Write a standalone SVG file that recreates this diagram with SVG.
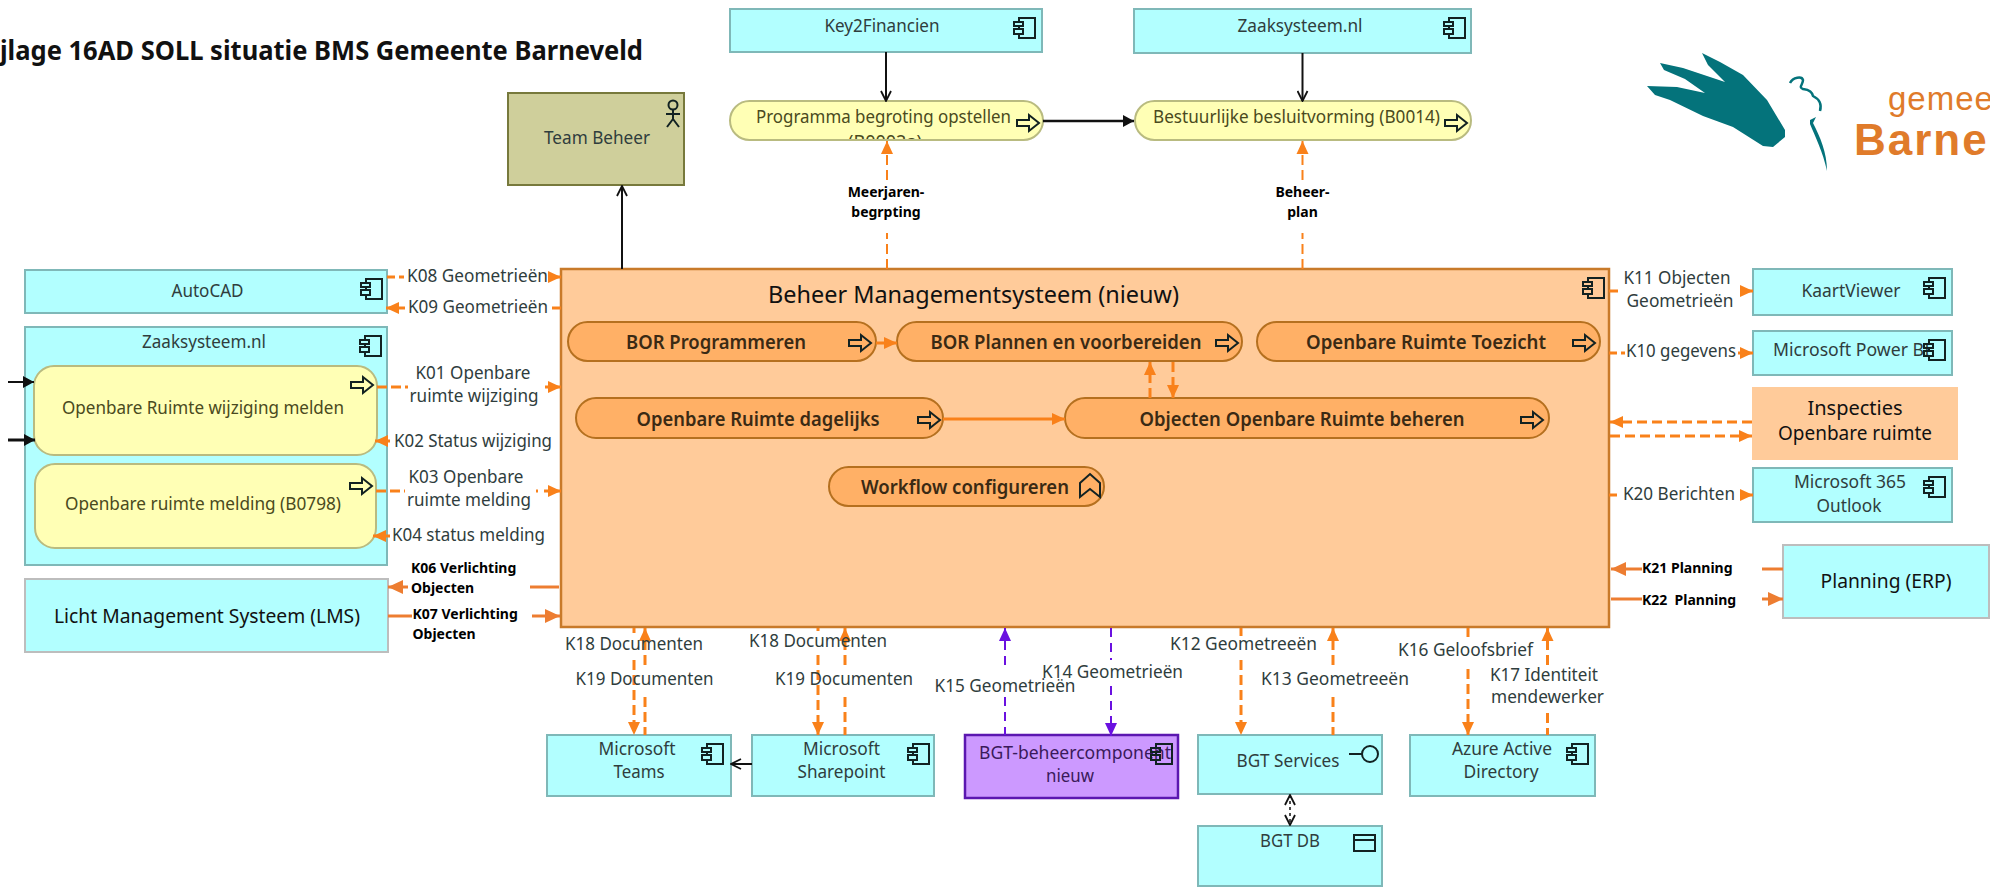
<svg xmlns="http://www.w3.org/2000/svg" width="1990" height="887" viewBox="0 0 1990 887">
<style>
text{font-family:"Noto Sans","Liberation Sans",sans-serif}
.t{font-size:18px;fill:#2f3d3d;text-anchor:middle}
.ts{font-size:18px;fill:#2f3d3d;text-anchor:start}
.y{font-size:18px;fill:#4a4a20;text-anchor:middle}
.o{font-size:20px;font-weight:600;fill:#3a2a14;text-anchor:middle}
.b{font-size:14px;font-weight:700;fill:#000;text-anchor:start}
.bm{font-size:14px;font-weight:700;fill:#000;text-anchor:middle}
.n{font-size:20px;fill:#111;text-anchor:middle}
.app{fill:#b2ffff;stroke:#7fb8b8;stroke-width:2}
.plain{fill:#b2ffff;stroke:#bdbdbd;stroke-width:2}
.yel{fill:#ffffb5;stroke:#b9bb80;stroke-width:2}
.pill{fill:#ffb066;stroke:#b5701f;stroke-width:2}
.ic{fill:none;stroke:#122222;stroke-width:2}
.or{stroke:#f9811a;stroke-width:3;fill:none}
.dash{stroke-dasharray:10 5}
.k{stroke:#ed7d31;stroke-width:3;fill:none}
.pu{stroke:#6a11e0;stroke-width:2;fill:none;stroke-dasharray:9 6}
.bl{stroke:#111;stroke-width:2;fill:none}
</style>
<defs>
<marker id="hO" markerUnits="userSpaceOnUse" markerWidth="14" markerHeight="14" viewBox="0 0 14 14" refX="13" refY="7" orient="auto"><path d="M0 1L13 7L0 13Z" fill="#f9811a"/></marker>
<marker id="hK" markerUnits="userSpaceOnUse" markerWidth="16" markerHeight="14" viewBox="0 0 16 14" refX="15" refY="7" orient="auto"><path d="M0 0L15 7L0 14Z" fill="#ed7d31"/></marker>
<marker id="hP" markerUnits="userSpaceOnUse" markerWidth="14" markerHeight="14" viewBox="0 0 14 14" refX="13" refY="7" orient="auto"><path d="M0 1L13 7L0 13Z" fill="#6a11e0"/></marker>
<marker id="hB" markerUnits="userSpaceOnUse" markerWidth="12" markerHeight="12" viewBox="0 0 12 12" refX="11" refY="6" orient="auto"><path d="M0 0L11 6L0 12Z" fill="#111"/></marker>
<marker id="hA" markerUnits="userSpaceOnUse" markerWidth="12" markerHeight="12" viewBox="0 0 12 12" refX="11" refY="6" orient="auto-start-reverse"><path d="M1 1L11 6L1 11" fill="none" stroke="#111" stroke-width="1.8"/></marker>
<g id="comp"><path class="ic" d="M5 4V0H21V20H5V16M5 11V8"/><rect class="ic" x="0" y="4" width="9" height="4"/><rect class="ic" x="0" y="11" width="9" height="5"/></g>
<path id="proc" class="ic" d="M0 5H12V0L22 8L12 16V11H0Z"/>
<clipPath id="clipProg"><rect x="730" y="101" width="313" height="38"/></clipPath>
</defs>

<text id="title" x="0" y="60" font-size="26" font-weight="700" fill="#111" textLength="643" lengthAdjust="spacingAndGlyphs">jlage 16AD SOLL situatie BMS Gemeente Barneveld</text>

<g id="logo">
<path fill="#04737b" d="M1647 86L1677 87L1705 93L1685 79L1664 70L1660 63L1683 68L1725 82L1708 65L1702 53L1720 62L1743 75L1767 100L1785 130L1785 137L1773 147L1763 146L1733 127L1703 116L1670 100L1655 95Z"/>
<path fill="none" stroke="#04737b" stroke-width="2.5" d="M1790 83C1793 77 1802 76 1803 80C1803 85 1798 87 1803 89C1810 90 1812 92 1813 96C1819 99 1822 104 1820 111"/>
<path fill="#04737b" d="M1810 120L1816 117L1813 123C1820 137 1827 152 1827 171C1823 152 1815 136 1810 124Z"/>
<text x="1888" y="110" font-size="33" fill="#e07b2a" letter-spacing="1" style="font-family:'Liberation Sans',sans-serif">gemee</text>
<text x="1854" y="155" font-size="44" font-weight="700" fill="#e07b2a" letter-spacing="2" style="font-family:'Liberation Sans',sans-serif">Barne</text>
</g>

<g id="team-beheer">
<rect x="508" y="93" width="176" height="92" fill="#cfcf9b" stroke="#77793c" stroke-width="2"/>
<g class="ic"><circle cx="673" cy="105" r="4.5"/><path d="M673 110V119M666 114H680M673 119L667 127M673 119L679 127"/></g>
<text class="t" x="597" y="144" textLength="106" lengthAdjust="spacingAndGlyphs">Team Beheer</text>
</g>

<g id="key2financien">
<rect class="app" x="730" y="9" width="312" height="43"/><use href="#comp" x="1014" y="18"/>
<text class="t" x="882" y="32" textLength="115" lengthAdjust="spacingAndGlyphs">Key2Financien</text>
</g>
<g id="zaaksysteem-top">
<rect class="app" x="1134" y="9" width="337" height="44"/><use href="#comp" x="1444" y="18"/>
<text class="t" x="1300" y="32" textLength="125" lengthAdjust="spacingAndGlyphs">Zaaksysteem.nl</text>
</g>
<g id="programma-begroting">
<rect class="yel" x="730" y="101" width="313" height="39" rx="19.5"/><use href="#proc" x="1017" y="115"/>
<text class="y" x="883.5" y="123" textLength="255" lengthAdjust="spacingAndGlyphs">Programma begroting opstellen</text>
<text class="y" x="885" y="148" clip-path="url(#clipProg)">(B0002a)</text>
</g>
<g id="bestuurlijke-besluitvorming">
<rect class="yel" x="1135" y="101" width="336" height="39" rx="19.5"/><use href="#proc" x="1445" y="115"/>
<text class="y" x="1296.5" y="123" textLength="287" lengthAdjust="spacingAndGlyphs">Bestuurlijke besluitvorming (B0014)</text>
</g>

<g id="autocad">
<rect class="app" x="25" y="270" width="362" height="43"/><use href="#comp" x="361" y="279"/>
<text class="t" x="207.500" y="297" textLength="72" lengthAdjust="spacingAndGlyphs">AutoCAD</text>
</g>
<g id="zaaksysteem-left">
<rect class="app" x="25" y="327" width="362" height="238"/><use href="#comp" x="360" y="336"/>
<text class="t" x="204" y="348" textLength="124" lengthAdjust="spacingAndGlyphs">Zaaksysteem.nl</text>
<g id="or-wijziging-melden">
<rect class="yel" x="34" y="366" width="343" height="89" rx="20"/><use href="#proc" x="351" y="377"/>
<text class="y" x="203" y="414" textLength="282" lengthAdjust="spacingAndGlyphs">Openbare Ruimte wijziging melden</text>
</g>
<g id="or-melding">
<rect class="yel" x="35" y="464" width="341" height="84" rx="20"/><use href="#proc" x="350" y="478"/>
<text class="y" x="203" y="510" textLength="276" lengthAdjust="spacingAndGlyphs">Openbare ruimte melding (B0798)</text>
</g>
</g>
<g id="lms">
<rect class="plain" x="25" y="579" width="363" height="73"/>
<text class="n" x="207" y="623" textLength="306" lengthAdjust="spacingAndGlyphs">Licht Management Systeem (LMS)</text>
</g>

<g id="bms">
<rect x="561" y="269" width="1048" height="358" fill="#ffcb9a" stroke="#c87a2a" stroke-width="2.5"/>
<use href="#comp" x="1583" y="278"/>
<text x="768" y="303" font-size="23" fill="#111" textLength="411" lengthAdjust="spacingAndGlyphs">Beheer Managementsysteem (nieuw)</text>
<g id="bor-programmeren"><rect class="pill" x="568" y="322" width="308" height="39" rx="19.500"/><use href="#proc" x="849" y="335"/><text class="o" x="716" y="349" textLength="180" lengthAdjust="spacingAndGlyphs">BOR Programmeren</text></g>
<g id="bor-plannen"><rect class="pill" x="897" y="322" width="345" height="39" rx="19.500"/><use href="#proc" x="1216" y="335"/><text class="o" x="1066" y="349" textLength="271" lengthAdjust="spacingAndGlyphs">BOR Plannen en voorbereiden</text></g>
<g id="or-toezicht"><rect class="pill" x="1257" y="322" width="343" height="39" rx="19.500"/><use href="#proc" x="1573" y="335"/><text class="o" x="1426" y="349" textLength="240" lengthAdjust="spacingAndGlyphs">Openbare Ruimte Toezicht</text></g>
<g id="or-dagelijks"><rect class="pill" x="576" y="398" width="367" height="40" rx="20"/><use href="#proc" x="918" y="412"/><text class="o" x="758" y="426" textLength="243" lengthAdjust="spacingAndGlyphs">Openbare Ruimte dagelijks</text></g>
<g id="objecten-beheren"><rect class="pill" x="1065" y="398" width="484" height="40" rx="20"/><use href="#proc" x="1521" y="412"/><text class="o" x="1302" y="426" textLength="325" lengthAdjust="spacingAndGlyphs">Objecten Openbare Ruimte beheren</text></g>
<g id="workflow"><rect class="pill" x="829" y="467" width="275" height="39" rx="19.500"/><path class="ic" d="M1080 483L1090 474L1100 483V497L1090 489L1080 497Z"/><text class="o" x="965" y="494" textLength="208" lengthAdjust="spacingAndGlyphs">Workflow configureren</text></g>
</g>

<g id="kaartviewer"><rect class="app" x="1753" y="269" width="199" height="46"/><use href="#comp" x="1924" y="278"/><text class="t" x="1851" y="297" textLength="99" lengthAdjust="spacingAndGlyphs">KaartViewer</text></g>
<g id="power-bi"><rect class="app" x="1753" y="331" width="199" height="44"/><text class="ts" x="1773" y="356" textLength="157" lengthAdjust="spacingAndGlyphs">Microsoft Power BI</text><use href="#comp" x="1924" y="340"/></g>
<g id="inspecties"><rect x="1752" y="387" width="206" height="73" fill="#ffcb9a"/><text class="n" x="1855" y="415" font-size="19">Inspecties</text><text class="n" x="1855" y="440" textLength="154" lengthAdjust="spacingAndGlyphs">Openbare ruimte</text></g>
<g id="outlook"><rect class="app" x="1753" y="468" width="199" height="54"/><use href="#comp" x="1924" y="477"/><text class="t" x="1850" y="488" textLength="112" lengthAdjust="spacingAndGlyphs">Microsoft 365</text><text class="t" x="1849" y="512" textLength="65" lengthAdjust="spacingAndGlyphs">Outlook</text></g>
<g id="planning-erp"><rect class="plain" x="1783" y="545" width="206" height="73"/><text class="n" x="1886" y="588" textLength="131" lengthAdjust="spacingAndGlyphs">Planning (ERP)</text></g>

<g id="teams"><rect class="app" x="547" y="735" width="184" height="61"/><use href="#comp" x="702" y="744"/><text class="t" x="637" y="755" textLength="77" lengthAdjust="spacingAndGlyphs">Microsoft</text><text class="t" x="639" y="778" textLength="51" lengthAdjust="spacingAndGlyphs">Teams</text></g>
<g id="sharepoint"><rect class="app" x="752" y="735" width="182" height="61"/><use href="#comp" x="908" y="744"/><text class="t" x="841.500" y="755" textLength="77" lengthAdjust="spacingAndGlyphs">Microsoft</text><text class="t" x="841.500" y="778" textLength="88" lengthAdjust="spacingAndGlyphs">Sharepoint</text></g>
<g id="bgt-beheercomponent"><rect x="965" y="735" width="213" height="63" fill="#cc99ff" stroke="#5b17b0" stroke-width="2.500"/><text class="t" x="1075" y="759" textLength="192" lengthAdjust="spacingAndGlyphs" style="fill:#3a1a5a">BGT-beheercomponent</text><text class="t" x="1070" y="782" textLength="48" lengthAdjust="spacingAndGlyphs" style="fill:#3a1a5a">nieuw</text><use href="#comp" x="1151" y="744"/></g>
<g id="bgt-services"><rect class="app" x="1198" y="735" width="184" height="59"/><path class="ic" d="M1349 754H1362"/><circle class="ic" cx="1370" cy="754" r="8"/><text class="t" x="1288" y="767" textLength="103" lengthAdjust="spacingAndGlyphs">BGT Services</text></g>
<g id="bgt-db"><rect class="app" x="1198" y="826" width="184" height="60"/><rect class="ic" x="1354" y="835" width="21" height="16"/><path class="ic" d="M1354 840H1375"/><text class="t" x="1290" y="847" textLength="60" lengthAdjust="spacingAndGlyphs">BGT DB</text></g>
<g id="azure-ad"><rect class="app" x="1410" y="735" width="185" height="61"/><use href="#comp" x="1567" y="744"/><text class="t" x="1502" y="755" textLength="100" lengthAdjust="spacingAndGlyphs">Azure Active</text><text class="t" x="1501" y="778" textLength="75" lengthAdjust="spacingAndGlyphs">Directory</text></g>

<g id="connectors">
<line class="bl" x1="622" y1="269" x2="622" y2="186" marker-end="url(#hA)"/>
<line class="bl" x1="886" y1="52" x2="886" y2="101" marker-end="url(#hA)"/>
<line class="bl" x1="1302.500" y1="53" x2="1302.500" y2="101" marker-end="url(#hA)"/>
<line class="bl" x1="1043" y1="121" x2="1134" y2="121" style="stroke-width:2.500" marker-end="url(#hB)"/>
<line class="bl" x1="8" y1="382" x2="34" y2="382" marker-end="url(#hB)"/>
<line class="bl" x1="8" y1="440" x2="35" y2="440" style="stroke-width:3" marker-end="url(#hB)"/>
<line class="bl" x1="752" y1="764" x2="731" y2="764" marker-end="url(#hA)"/>
<line class="bl" x1="1290" y1="795" x2="1290" y2="825" style="stroke-width:1.500;stroke-dasharray:3 3" marker-start="url(#hA)" marker-end="url(#hA)"/>
<line class="or" x1="876" y1="343" x2="897" y2="343" marker-end="url(#hO)"/>
<line class="or" x1="943" y1="419" x2="1065" y2="419" marker-end="url(#hO)"/>
<line class="or dash" x1="1150" y1="398" x2="1150" y2="362" marker-end="url(#hO)"/>
<line class="or dash" x1="1173" y1="362" x2="1173" y2="398" marker-end="url(#hO)"/>
<line class="or dash" style="stroke-width:2" x1="887" y1="180" x2="887" y2="141" marker-end="url(#hO)"/>
<line class="or dash" style="stroke-width:2" x1="887" y1="269" x2="887" y2="233"/>
<line class="or dash" style="stroke-width:2" x1="1302.500" y1="180" x2="1302.500" y2="141" marker-end="url(#hO)"/>
<line class="or dash" style="stroke-width:2" x1="1302.500" y1="269" x2="1302.500" y2="233"/>
<line class="or" x1="387" y1="277" x2="404" y2="277" stroke-dasharray="8 4"/><line class="or" x1="549" y1="277" x2="561" y2="277" marker-end="url(#hO)"/>
<line class="or" x1="552" y1="308" x2="561" y2="308"/><line class="or" x1="405" y1="308" x2="386" y2="308" marker-end="url(#hO)"/>
<line class="or" x1="377" y1="387" x2="408" y2="387" stroke-dasharray="10 4"/><line class="or" x1="545" y1="387" x2="561" y2="387" marker-end="url(#hO)"/>
<line class="or" x1="390" y1="441" x2="375" y2="441" marker-end="url(#hO)"/>
<line class="or" x1="376" y1="491" x2="405" y2="491" stroke-dasharray="10 4"/><line class="or" x1="536" y1="491" x2="561" y2="491" stroke-dasharray="2 6 20" marker-end="url(#hO)"/>
<line class="or" x1="390" y1="536" x2="373" y2="536" marker-end="url(#hO)"/>
<line class="k" x1="559" y1="587" x2="530" y2="587"/><line class="k" x1="408" y1="587" x2="388" y2="587" marker-end="url(#hK)"/>
<line class="k" x1="388" y1="616" x2="412" y2="616"/><line class="k" x1="532" y1="616" x2="560" y2="616" marker-end="url(#hK)"/>
<line class="or" x1="1609" y1="291" x2="1618" y2="291"/><line class="or" x1="1741" y1="291" x2="1753" y2="291" marker-end="url(#hO)"/>
<line class="or" x1="1609" y1="353" x2="1625" y2="353" stroke-dasharray="8 4"/><line class="or" x1="1738" y1="353" x2="1753" y2="353" marker-end="url(#hO)"/>
<line class="or dash" x1="1752" y1="422" x2="1610" y2="422" marker-end="url(#hO)"/>
<line class="or dash" x1="1610" y1="436" x2="1752" y2="436" marker-end="url(#hO)"/>
<line class="or" x1="1609" y1="495" x2="1617" y2="495"/><line class="or" x1="1741" y1="495" x2="1753" y2="495" marker-end="url(#hO)"/>
<line class="k" x1="1783" y1="569" x2="1762" y2="569"/><line class="k" x1="1642" y1="569" x2="1611" y2="569" marker-end="url(#hK)"/>
<line class="k" x1="1611" y1="599" x2="1642" y2="599"/><line class="k" x1="1762" y1="599" x2="1783" y2="599" marker-end="url(#hK)"/>
<line class="or" x1="634" y1="628" x2="634" y2="633"/><line class="or dash" x1="634" y1="660" x2="634" y2="735" marker-end="url(#hO)"/>
<line class="or dash" x1="645" y1="665" x2="645" y2="628" marker-end="url(#hO)"/><line class="or dash" x1="645" y1="697" x2="645" y2="735"/>
<line class="or" x1="818" y1="628" x2="818" y2="631"/><line class="or dash" x1="818" y1="655" x2="818" y2="735" marker-end="url(#hO)"/>
<line class="or dash" x1="845" y1="665" x2="845" y2="628" marker-end="url(#hO)"/><line class="or dash" x1="845" y1="697" x2="845" y2="735"/>
<line class="pu" x1="1005" y1="665" x2="1005" y2="628" marker-end="url(#hP)"/><line class="pu" x1="1005" y1="697" x2="1005" y2="735"/>
<line class="pu" x1="1111" y1="628" x2="1111" y2="660"/><line class="pu" x1="1111" y1="686" x2="1111" y2="736" marker-end="url(#hP)"/>
<line class="or" x1="1241" y1="628" x2="1241" y2="636"/><line class="or dash" x1="1241" y1="660" x2="1241" y2="735" marker-end="url(#hO)"/>
<line class="or dash" x1="1333" y1="665" x2="1333" y2="628" marker-end="url(#hO)"/><line class="or dash" x1="1333" y1="697" x2="1333" y2="735"/>
<line class="or" x1="1468" y1="628" x2="1468" y2="637"/><line class="or dash" x1="1468" y1="669" x2="1468" y2="735" marker-end="url(#hO)"/>
<line class="or dash" x1="1547.500" y1="665" x2="1547.500" y2="628" marker-end="url(#hO)"/><line class="or dash" x1="1547.500" y1="713" x2="1547.500" y2="735"/>
<text class="bm" x="886" y="197">Meerjaren-</text><text class="bm" x="886" y="217">begrpting</text>
<text class="bm" x="1302.500" y="197">Beheer-</text><text class="bm" x="1302.500" y="217">plan</text>
<text class="ts" x="407" y="282" textLength="141" lengthAdjust="spacingAndGlyphs">K08 Geometrieën</text>
<text class="ts" x="408" y="313" textLength="140" lengthAdjust="spacingAndGlyphs">K09 Geometrieën</text>
<text class="t" x="473" y="379" textLength="115" lengthAdjust="spacingAndGlyphs">K01 Openbare</text><text class="t" x="474" y="402" textLength="129" lengthAdjust="spacingAndGlyphs">ruimte wijziging</text>
<text class="ts" x="394" y="447" textLength="158" lengthAdjust="spacingAndGlyphs">K02 Status wijziging</text>
<text class="t" x="466" y="483" textLength="115" lengthAdjust="spacingAndGlyphs">K03 Openbare</text><text class="t" x="469" y="506" textLength="124" lengthAdjust="spacingAndGlyphs">ruimte melding</text>
<text class="ts" x="392" y="541" textLength="153" lengthAdjust="spacingAndGlyphs">K04 status melding</text>
<text class="b" x="411" y="573">K06 Verlichting</text><text class="b" x="411" y="593">Objecten</text>
<text class="b" x="412.500" y="619">K07 Verlichting</text><text class="b" x="412.500" y="639">Objecten</text>
<text class="t" x="1677" y="284" textLength="107" lengthAdjust="spacingAndGlyphs">K11 Objecten</text><text class="t" x="1680" y="307" textLength="107" lengthAdjust="spacingAndGlyphs">Geometrieën</text>
<text class="ts" x="1626" y="357" textLength="110" lengthAdjust="spacingAndGlyphs">K10 gegevens</text>
<text class="ts" x="1623" y="500" textLength="112" lengthAdjust="spacingAndGlyphs">K20 Berichten</text>
<text class="b" x="1642" y="573">K21 Planning</text>
<text class="b" x="1642" y="605" xml:space="preserve">K22  Planning</text>
<text class="ts" x="565" y="650" textLength="138" lengthAdjust="spacingAndGlyphs">K18 Documenten</text>
<text class="ts" x="575.500" y="685" textLength="138" lengthAdjust="spacingAndGlyphs">K19 Documenten</text>
<text class="ts" x="749" y="647" textLength="138" lengthAdjust="spacingAndGlyphs">K18 Documenten</text>
<text class="ts" x="775" y="685" textLength="138" lengthAdjust="spacingAndGlyphs">K19 Documenten</text>
<text class="ts" x="934.500" y="692" textLength="141" lengthAdjust="spacingAndGlyphs">K15 Geometrieën</text>
<text class="ts" x="1042" y="678" textLength="141" lengthAdjust="spacingAndGlyphs">K14 Geometrieën</text>
<text class="ts" x="1170" y="650" textLength="147" lengthAdjust="spacingAndGlyphs">K12 Geometreeën</text>
<text class="ts" x="1261" y="685" textLength="148" lengthAdjust="spacingAndGlyphs">K13 Geometreeën</text>
<text class="ts" x="1398" y="656" textLength="135" lengthAdjust="spacingAndGlyphs">K16 Geloofsbrief</text>
<text class="ts" x="1490" y="681" textLength="108" lengthAdjust="spacingAndGlyphs">K17 Identiteit</text>
<text class="ts" x="1491" y="703" textLength="113" lengthAdjust="spacingAndGlyphs">mendewerker</text>
</g>
</svg>
